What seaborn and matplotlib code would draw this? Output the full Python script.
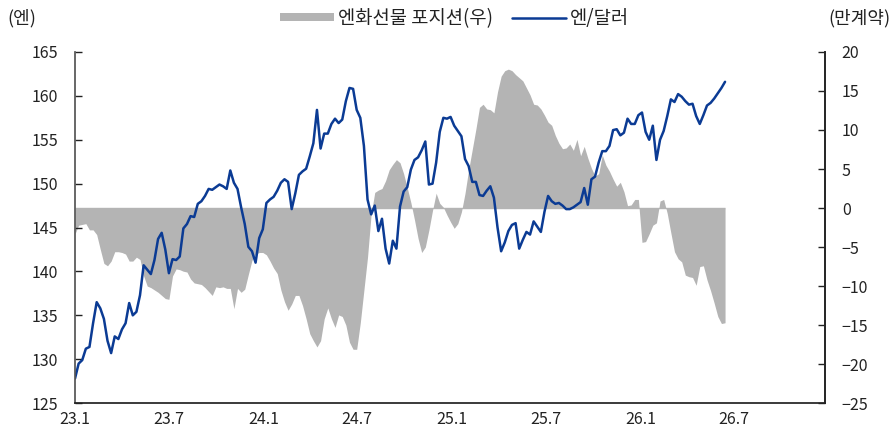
import numpy as np
import pandas as pd
import matplotlib
matplotlib.use('Agg')
import matplotlib.pyplot as plt
from matplotlib.patches import Patch
from matplotlib.lines import Line2D
import seaborn as sns

# weekly observations, 2023-01 .. 2026-06
dates = pd.date_range('2023-01-01', periods=181, freq='7D')

# 엔/달러 (left axis)
usdjpy = [
    127.8, 129.5, 129.9, 131.2, 131.4, 134.1, 136.5, 135.8, 134.6, 132.1,
    130.7, 132.6, 132.3, 133.4, 134.1, 136.4, 135.0, 135.4, 137.3, 140.7,
    140.2, 139.7, 141.3, 143.7, 144.4, 142.5, 139.8, 141.4, 141.3, 141.7,
    144.9, 145.4, 146.3, 146.2, 147.7, 148.0, 148.6, 149.4, 149.3, 149.6,
    149.9, 149.7, 149.4, 151.5, 150.1, 149.4, 147.3, 145.4, 142.8, 142.3,
    141.0, 143.8, 144.8, 147.8, 148.2, 148.5, 149.2, 150.1, 150.5, 150.2,
    147.1, 148.9, 151.0, 151.4, 151.7, 153.1, 154.6, 158.4, 154.0, 155.7,
    155.7, 156.8, 157.4, 156.9, 157.3, 159.4, 160.9, 160.8, 158.4, 157.5,
    154.3, 148.2, 146.5, 147.5, 144.6, 146.0, 142.6, 140.9, 143.5, 142.6,
    147.4, 149.1, 149.6, 151.6, 152.7, 153.0, 153.8, 154.8, 149.9, 150.0,
    152.4, 155.9, 157.5, 157.4, 157.6, 156.6, 156.0, 155.4, 152.8, 152.0,
    150.2, 150.2, 148.7, 148.6, 149.2, 149.7, 148.4, 145.0, 142.3, 143.3,
    144.6, 145.3, 145.5, 142.6, 143.6, 144.5, 144.2, 145.7, 145.1, 144.5,
    146.8, 148.6, 148.0, 147.7, 147.8, 147.5, 147.1, 147.1, 147.3, 147.6,
    147.9, 149.5, 147.6, 150.5, 150.8, 152.4, 153.7, 153.7, 154.3, 156.1,
    156.2, 155.5, 155.8, 157.4, 156.8, 156.8, 157.8, 158.1, 155.9, 155.0,
    156.6, 152.7, 155.0, 156.0, 157.7, 159.6, 159.3, 160.2, 159.9, 159.4,
    159.0, 159.1, 157.7, 156.8, 157.8, 158.9, 159.2, 159.7, 160.3, 160.9,
    161.6,
]

# 엔화선물 포지션 (right axis, 만계약)
position = [
    -3.3, -2.2, -2.1, -2.0, -2.8, -2.8, -3.4, -5.3, -7.1, -7.4,
    -6.8, -5.6, -5.6, -5.7, -5.9, -6.8, -6.8, -6.3, -6.6, -8.7,
    -10.0, -10.2, -10.5, -10.8, -11.2, -11.6, -11.7, -8.7, -7.8, -7.9,
    -8.1, -8.2, -9.1, -9.6, -9.7, -9.8, -10.2, -10.7, -11.2, -10.1,
    -10.2, -10.1, -10.3, -10.3, -12.9, -10.3, -10.8, -10.4, -8.5, -6.7,
    -5.9, -5.7, -5.7, -6.0, -6.8, -7.7, -8.4, -10.5, -12.0, -13.1,
    -12.3, -11.2, -11.2, -12.5, -14.2, -16.1, -17.0, -17.8, -17.0, -14.2,
    -12.8, -14.2, -15.3, -13.7, -13.9, -15.0, -17.2, -18.1, -18.1, -14.7,
    -10.5, -6.3, -0.8, 2.0, 2.3, 2.5, 3.5, 4.9, 5.6, 6.2,
    5.8, 4.4, 2.6, 0.7, -1.5, -3.9, -5.7, -5.0, -2.8, -0.3,
    1.9, 0.6, 0.1, -0.9, -1.8, -2.6, -2.0, -0.5, 1.9, 4.9,
    7.5, 10.1, 12.9, 13.3, 12.7, 12.6, 12.2, 14.9, 16.9, 17.6,
    17.8, 17.6, 17.1, 16.7, 16.3, 15.4, 14.5, 13.3, 13.2, 12.7,
    11.9, 11.0, 10.6, 9.3, 8.3, 7.6, 7.7, 8.2, 7.4, 8.8,
    6.7, 7.9, 6.4, 5.1, 4.1, 4.4, 6.8, 5.5, 4.7, 3.7,
    2.8, 3.3, 2.1, 0.3, 0.4, 1.1, 1.1, -4.4, -4.3, -3.3,
    -2.2, -1.9, 0.9, 1.1, -0.7, -3.2, -5.6, -6.5, -6.9, -8.6,
    -8.8, -8.9, -9.9, -7.5, -7.4, -9.2, -10.6, -12.2, -13.9, -14.8,
    -14.7,
]

tick_dates = pd.date_range('2023-01-01', '2026-07-01', freq='6MS')
tick_labels = ['23.1', '23.7', '24.1', '24.7', '25.1', '25.7', '26.1', '26.7']

df = pd.DataFrame({'date': dates, 'usdjpy': usdjpy, 'position': position})

sns.set_theme(style='white')
plt.rcParams['font.family'] = ['Noto Sans CJK KR', 'DejaVu Sans']
plt.rcParams['axes.unicode_minus'] = True

line_color = '#0b3b94'
area_color = '#b4b4b4'
text_color = '#222222'

fig, ax = plt.subplots(figsize=(8.93, 4.33), dpi=100)
fig.subplots_adjust(left=0.084, right=0.924, bottom=0.069, top=0.88)
ax2 = ax.twinx()

# area on the right axis
ax2.fill_between(df['date'], df['position'], 0, color=area_color, lw=0)
ax2.hlines(0, df['date'].iloc[0], df['date'].iloc[-1], color=area_color, lw=1)
ax2.set_ylim(-25, 20)
ax2.set_yticks(range(-25, 21, 5))

# line on the left axis, drawn above the area
sns.lineplot(data=df, x='date', y='usdjpy', ax=ax, color=line_color, lw=1.8)
ax.set_zorder(ax2.get_zorder() + 1)
ax.patch.set_visible(False)
ax.set_ylim(125, 165)
ax.set_yticks(range(125, 166, 5))
ax.set_xlim(pd.Timestamp('2023-01-01'), pd.Timestamp('2026-12-25'))
ax.set_xticks(tick_dates)
ax.set_xticklabels(tick_labels)
ax.set_xlabel('')
ax.set_ylabel('')

for a in (ax, ax2):
    a.spines['top'].set_visible(False)
    a.tick_params(direction='in', length=5, width=1, labelsize=11.5,
                  colors=text_color, pad=6)
ax.spines['left'].set_color('#555555')
ax.spines['bottom'].set_color(text_color)
ax2.spines['right'].set_color(text_color)
ax2.spines['left'].set_visible(False)
ax2.spines['bottom'].set_visible(False)
ax.tick_params(axis='y', pad=12)
ax2.tick_params(axis='y', pad=12)

fig.text(0.008, 0.958, '(엔)', fontsize=13, color=text_color, va='center')
fig.text(0.997, 0.958, '(만계약)', fontsize=13, color=text_color,
         va='center', ha='right')

handles = [Patch(facecolor=area_color, edgecolor='none'),
           Line2D([0], [0], color=line_color, lw=1.8)]
fig.legend(handles, ['엔화선물 포지션(우)', '엔/달러'], loc='center',
           bbox_to_anchor=(0.509, 0.958), ncol=2, frameon=False,
           fontsize=13.5, handlelength=2.9, handleheight=0.35,
           columnspacing=1.0, handletextpad=0.2, labelcolor=text_color)

plt.savefig('out.png', dpi=100)
plt.close()
